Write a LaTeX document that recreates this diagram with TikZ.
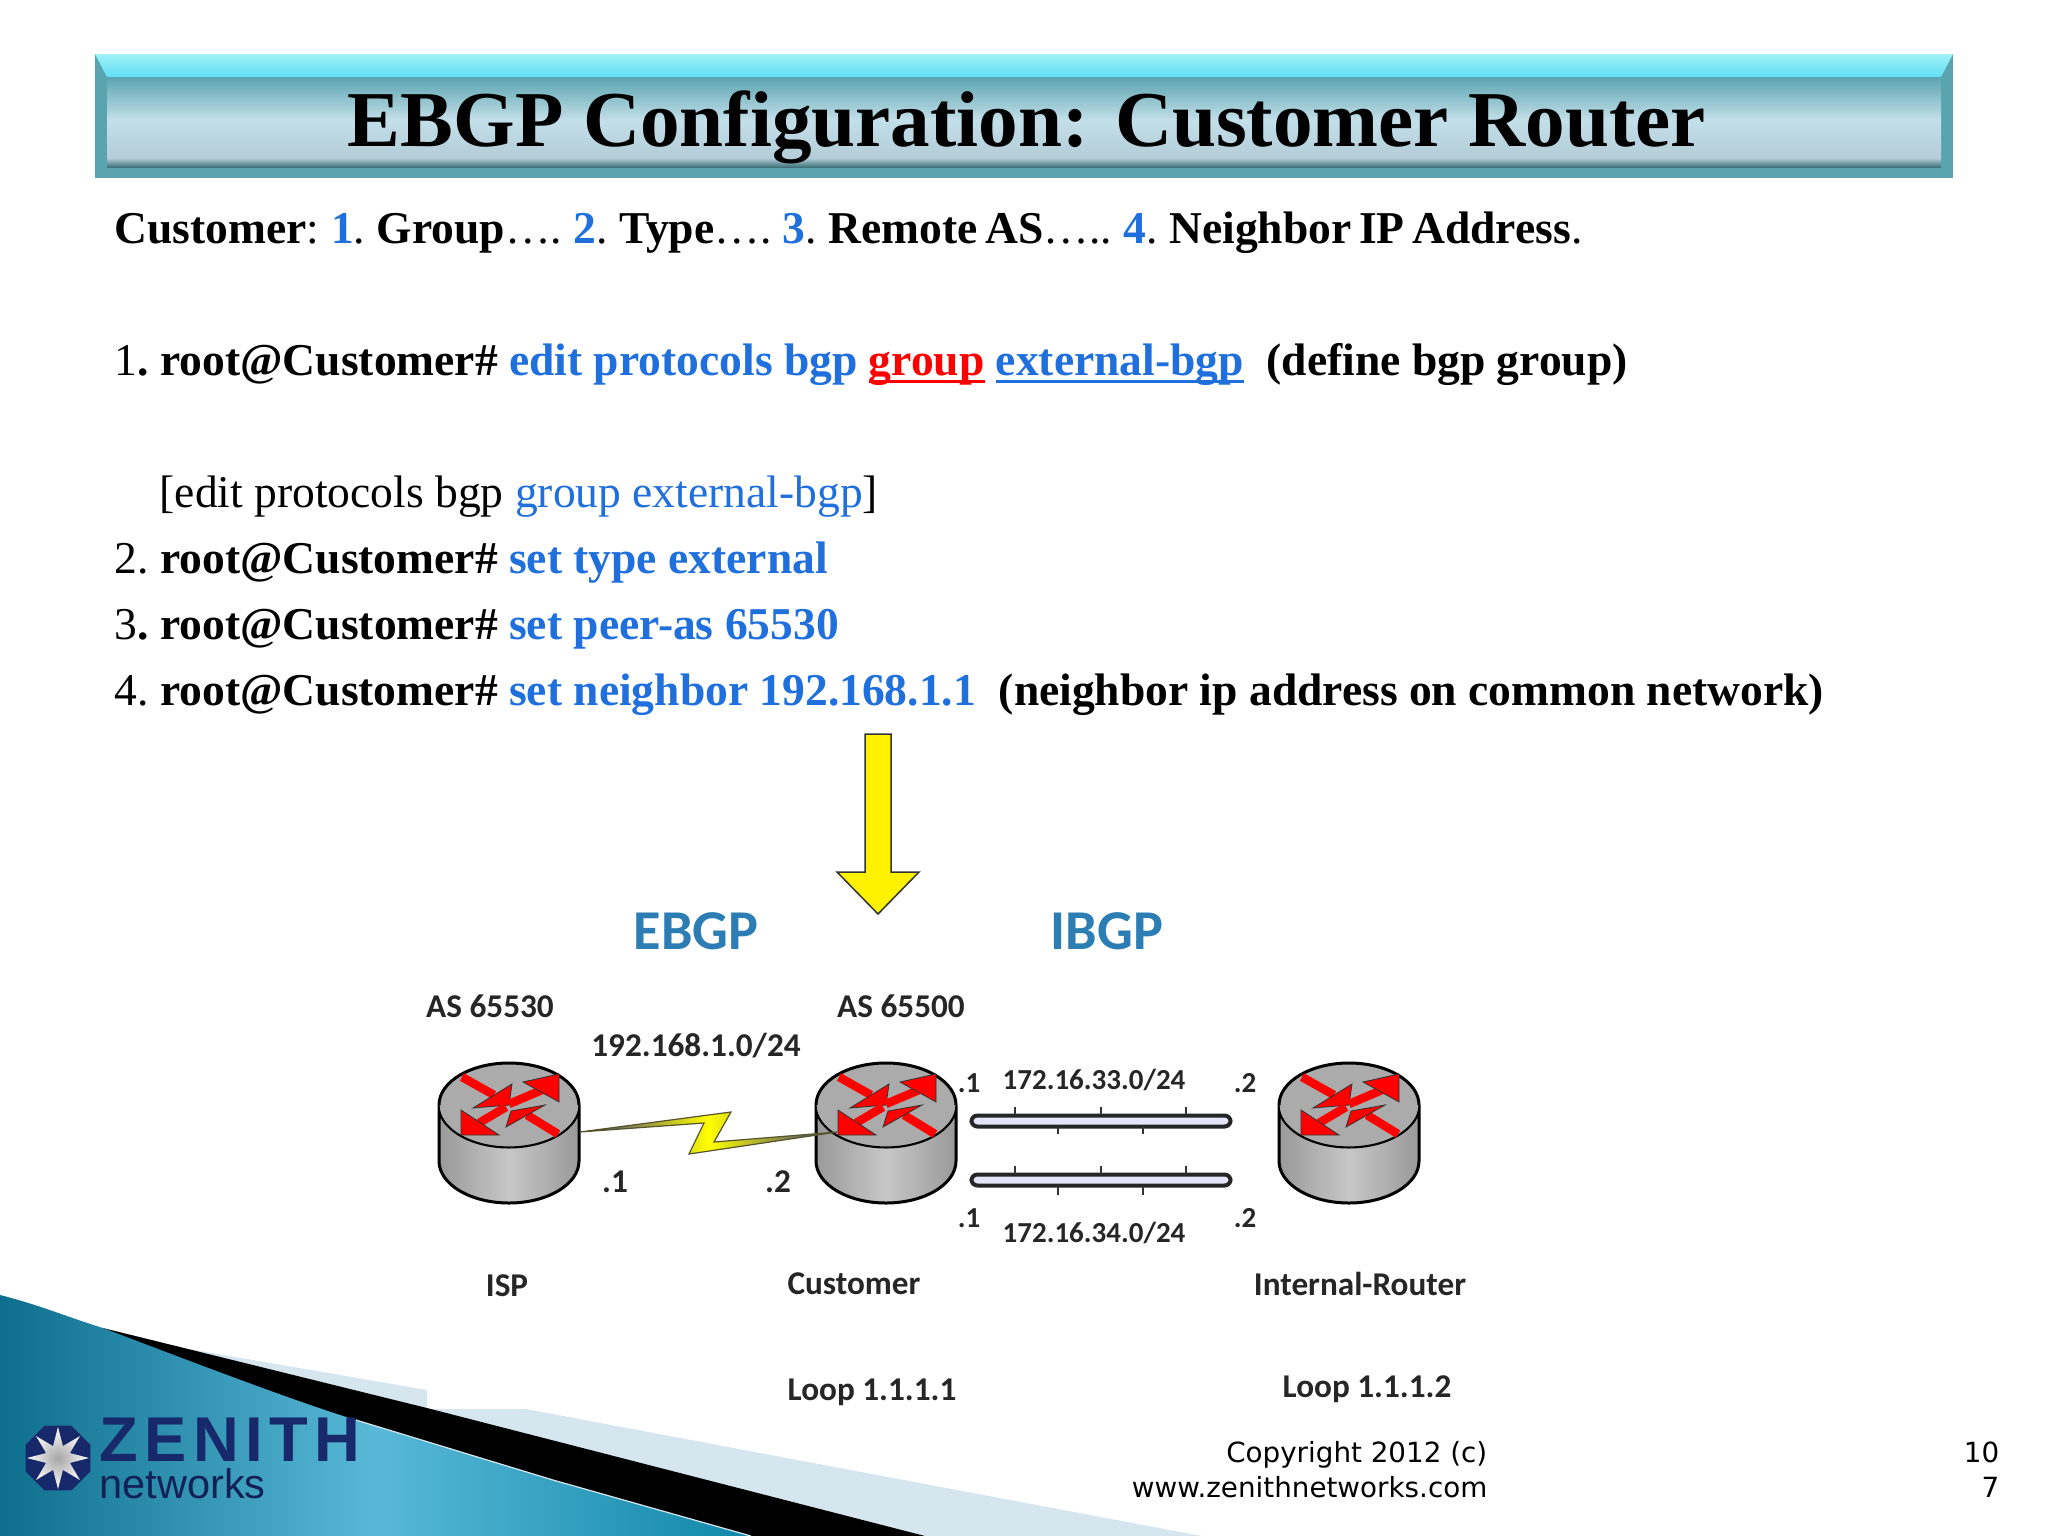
\documentclass[tikz,border=0pt]{standalone}
\usepackage{fontspec}
\usepackage{xcolor}
\setmainfont{Liberation Serif}
\newfontfamily\netfont{Carlito}
\newfontfamily\footfont{DejaVu Sans}
\newfontfamily\zenfont[LetterSpace=10]{Liberation Sans}
\newfontfamily\logofont{Liberation Sans}
\usetikzlibrary{arrows.meta,shapes.geometric}
\definecolor{cmdblue}{HTML}{1F6FDC}
\definecolor{barteal}{HTML}{5AA4B0}
\definecolor{barcyan}{HTML}{62DDF5}
\definecolor{barpale}{HTML}{9FF2F7}
\definecolor{barbody}{HTML}{C3DFE9}
\definecolor{barlow}{HTML}{B4CDD8}
\definecolor{navy}{HTML}{17296B}
\definecolor{bgpblue}{HTML}{2B7DB3}
\definecolor{swooshdark}{HTML}{0E6E8E}
\definecolor{swooshlight}{HTML}{58B8D8}
\definecolor{swooshedge}{HTML}{1188A8}
\definecolor{paleband}{HTML}{D5E6EF}
\newlength{\ullen}
\newcommand{\cmd}[1]{\textcolor{cmdblue}{#1}}
\newcommand{\ulword}[1]{\settowidth{\ullen}{#1}\rlap{\rule[-2.3pt]{\ullen}{0.9pt}}#1}
\newcommand{\stepno}[1]{\makebox[0.457cm][l]{#1}}
\tikzset{
    bodytext/.style={anchor=base west, inner sep=0pt, font=\fontsize{12.95}{16}\selectfont},
    netlabel/.style={inner sep=0pt, text=black!85, font=\netfont\bfseries\fontsize{9.45}{11}\selectfont},
    sublabel/.style={netlabel, font=\netfont\bfseries\fontsize{8.25}{10}\selectfont},
    bgplabel/.style={inner sep=0pt, text=bgpblue, font=\netfont\bfseries\fontsize{16}{20}\selectfont},
    footnote/.style={anchor=base east, inner sep=0pt, font=\footfont\fontsize{7.9}{10}\selectfont},
    routerbox/.style={minimum width=1.4cm, minimum height=1.39cm, inner sep=0pt},
    busbar/.style={draw=black!85, line width=0.04cm, fill=black!25!blue!10!white, rounded corners=0.06cm, minimum width=2.59cm, minimum height=0.11cm, inner sep=0pt},
    bustick/.style={draw=black!80, line width=0.012cm},
    router/.pic={
        \shade[left color=black!40, right color=black!40, middle color=black!22, draw=black, line width=0.03cm]
            (-70,-27) -- (-70,29) arc[start angle=180, end angle=0, x radius=70, y radius=42] -- (70,-27) arc[start angle=0, end angle=180, x radius=70, y radius=42] -- cycle;
        \draw[fill=black!33, line width=0.012cm] (0,-27) ellipse[x radius=70, y radius=42];
        \draw[line width=0.03cm] (-70,-27) arc[start angle=180, end angle=360, x radius=70, y radius=42];
        \foreach \sx/\sy/\ex/\ey/\ax/\ay/\tx/\ty/\bx/\by in {
            -47/-55/-15/-37/3/-48/0/-27/-36/-24,
            0/-28/33/-42/14/-50/50/-58/50/-30,
            -3/-25/-30/-9/-48/-22/-48/3/-10/3,
            49/2/18/-17/36/-27/2/-21/-3/-5} {
            \draw[red, line width=0.085cm] (\sx,\sy) -- (\ex,\ey);
            \draw[fill=red, draw=black!80, line width=0.008cm] (\ax,\ay) -- (\tx,\ty) -- (\bx,\by) -- cycle;
        }
    }
}
\begin{document}
\begin{tikzpicture}[x=0.01cm, y=-0.01cm]
    \useasboundingbox (0,0) rectangle (2048,1536);

    % Footer swoosh
    \fill[paleband] (166,1345) -- (427,1390) -- (427,1409) -- (526,1409) -- (1202,1536) -- (925,1536) -- cycle;
    \fill[black] (103,1328) -- (427,1408) -- (925,1536) -- (751,1536) -- (300,1450) -- cycle;
    \shade[left color=swooshdark, right color=swooshedge, middle color=swooshlight]
        (0,1295) .. controls (40,1305) and (70,1318) .. (103,1328) .. controls (200,1365) and (300,1403) .. (356,1420) -- (553,1480) -- (751,1536) -- (0,1536) -- cycle;
    \draw[paleband, line width=0.012cm] (356,1420) -- (553,1480) -- (751,1536);

    % Logo
    \node[regular polygon, regular polygon sides=8, fill=navy, minimum size=0.7cm, inner sep=0pt] (logoback) at (58,1458) {};
    \node[star, star points=8, star point ratio=2.4, inner color=black!35, outer color=white, minimum size=0.62cm, inner sep=0pt] (logostar) at (58,1458) {};
    \node[anchor=base west, inner sep=0pt, text=navy, font=\zenfont\bfseries\fontsize{18}{20}\selectfont] (zenith) at (99,1461) {ZENITH};
    \node[anchor=base west, inner sep=0pt, text=navy!80!black, font=\logofont\fontsize{11.8}{14}\selectfont] (netword) at (99,1498) {networks};

    % Title bar
    \fill[barteal] (95,54) rectangle (1953,178);
    \shade[top color=barpale, bottom color=barcyan] (95,54) -- (1953,54) -- (1941,77) -- (107,77) -- cycle;
    \shade[top color=barteal, bottom color=barbody] (107,77) rectangle (1941,120);
    \shade[top color=barbody, bottom color=barlow] (107,120) rectangle (1941,158);
    \shade[top color=barlow, bottom color=barteal!70!black] (107,158) rectangle (1941,167);
    \node[inner sep=0pt, font=\bfseries\fontsize{22.5}{26}\selectfont] (title) at (1027,127) {EBGP Configuration: Customer Router};

    % Command lines
    \node[bodytext] (steps) at (114,243) {\spaceskip=2.2pt\textbf{Customer}: \cmd{\textbf{1}}. \textbf{Group}\dots. \cmd{\textbf{2}}. \textbf{Type}\dots. \cmd{\textbf{3}}. \textbf{Remote AS}\dots.. \cmd{\textbf{4}}. \textbf{Neighbor IP Address}.};
    \node[bodytext] (cmdone) at (114,375) {\stepno{1\textbf{.}}\textbf{root@Customer\# \cmd{edit protocols bgp} \textcolor{red}{\ulword{group}} \cmd{\ulword{external-bgp}}\ \ (define bgp group)}};
    \node[bodytext] (prompt) at (159,507) {[edit protocols bgp \cmd{group external-bgp}]};
    \node[bodytext] (cmdtwo) at (114,573) {\stepno{2.}\textbf{root@Customer\# \cmd{set type external}}};
    \node[bodytext] (cmdthree) at (114,639) {\stepno{3\textbf{.}}\textbf{root@Customer\# \cmd{set peer-as 65530}}};
    \node[bodytext] (cmdfour) at (114,705) {\stepno{4.}\textbf{root@Customer\# \cmd{set neighbor 192.168.1.1}\ \ (neighbor ip address on common network)}};

    % Yellow arrow
    \draw[fill=yellow, draw=black!80, line width=0.015cm] (865,734) -- (891,734) -- (891,872) -- (919,872) -- (878,914) -- (837,872) -- (865,872) -- cycle;

    % Routers
    \node[routerbox] (isp) at (509,1132) {};
    \node[routerbox] (customer) at (886,1132) {};
    \node[routerbox] (internal) at (1349,1132) {};
    \pic at (isp) {router};
    \pic at (customer) {router};
    \pic at (internal) {router};

    % Serial link
    \shade[left color=blue!40!black!80, right color=blue!40!black!80, middle color=yellow, draw=black!50!olive, line width=0.012cm]
        (isp.east) -- (704,1123) -- (689,1154) -- ([xshift=0.22cm]customer.west) -- (714,1142) -- (731,1112) -- cycle;

    % Ethernet segments
    \node[busbar] (busone) at (1101,1121) {};
    \node[busbar] (bustwo) at (1101,1180) {};
    \foreach \tx in {1015,1101,1186} {
        \draw[bustick] (\tx,1107) -- (\tx,1115);
        \draw[bustick] (\tx,1166) -- (\tx,1174);
    }
    \foreach \tx in {1058,1143} {
        \draw[bustick] (\tx,1127) -- (\tx,1134);
        \draw[bustick] (\tx,1186) -- (\tx,1195);
    }

    % Labels
    \node[bgplabel] (ebgp) at (696,931) {EBGP};
    \node[bgplabel] (ibgp) at (1107,931) {IBGP};
    \node[netlabel] (asisp) at (490,1006) {AS 65530};
    \node[netlabel] (ascust) at (901,1006) {AS 65500};
    \node[netlabel] (netserial) at (696,1046) {192.168.1.0/24};
    \node[netlabel] (ispdot) at (615,1182) {.1};
    \node[netlabel] (custdot) at (778,1182) {.2};
    \node[sublabel] (netone) at (1094,1080) {172.16.33.0/24};
    \node[sublabel] (nettwo) at (1094,1233) {172.16.34.0/24};
    \node[sublabel] (dotonea) at (969,1083) {.1};
    \node[sublabel] (dotoneb) at (1245,1083) {.2};
    \node[sublabel] (dottwoa) at (969,1218) {.1};
    \node[sublabel] (dottwob) at (1245,1218) {.2};
    \node[netlabel] (ispname) at (507,1286) {ISP};
    \node[netlabel] (custname) at (854,1284) {Customer};
    \node[netlabel] (intname) at (1360,1284) {Internal-Router};
    \node[netlabel] (loopone) at (872,1392) {Loop 1.1.1.1};
    \node[netlabel] (looptwo) at (1367,1389) {Loop 1.1.1.2};

    % Footer text
    \node[footnote] (copyone) at (1488,1462) {Copyright 2012 (c)};
    \node[footnote] (copytwo) at (1488,1497) {www.zenithnetworks.com};
    \node[footnote] (pageone) at (2000,1462) {10};
    \node[footnote] (pagetwo) at (2000,1497) {7};
\end{tikzpicture}
\end{document}
